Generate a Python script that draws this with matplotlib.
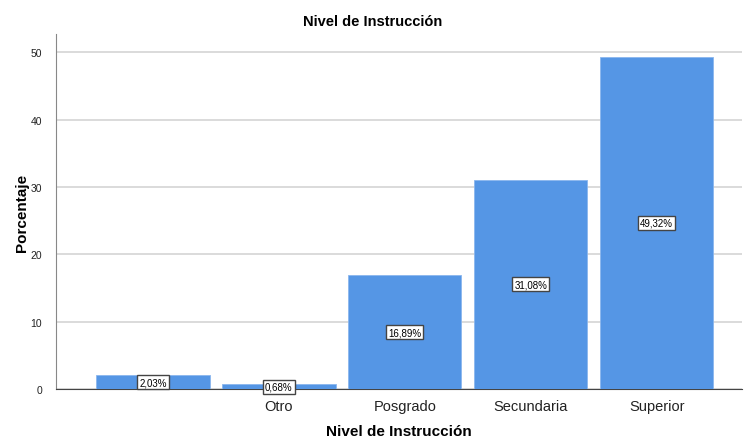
import matplotlib
matplotlib.use("Agg")
import matplotlib.pyplot as plt

categories = ["", "Otro", "Posgrado", "Secundaria", "Superior"]
values = [2.03, 0.68, 16.89, 31.08, 49.32]
labels = ["2,03%", "0,68%", "16,89%", "31,08%", "49,32%"]
yticks = [0, 10, 20, 30, 40, 50]

plt.rcParams['font.family'] = ['Liberation Sans', 'DejaVu Sans']

fig = plt.figure(figsize=(7.46, 4.39), dpi=100)
ax = fig.add_axes([0.075, 0.1116, 0.92, 0.8087])

x = list(range(len(categories)))
ax.bar(x, values, width=0.9, color="#5596e5", edgecolor="#8ab6ee", linewidth=0.6, zorder=3)

for xi, v, lab in zip(x, values, labels):
    ax.text(xi, v / 2, lab, ha="center", va="center", fontsize=7, color="black", zorder=5,
            bbox=dict(boxstyle="square,pad=0.2", facecolor="white", edgecolor="#444444", linewidth=1))

ax.set_xlim(-0.77, 4.68)
ax.set_ylim(0, 52.7)
ax.set_yticks(yticks)
ax.set_yticklabels([str(t) for t in yticks], fontsize=7.5, color="#222222")
ax.set_xticks(x)
ax.set_xticklabels(categories, fontsize=10.5, color="#222222")
ax.tick_params(axis="both", length=0)
ax.tick_params(axis="x", pad=7)
ax.tick_params(axis="y", pad=10)

ax.yaxis.grid(True, color="#d4d4d4", linewidth=1.2, zorder=0)
ax.set_axisbelow(True)

for s in ["top", "right"]:
    ax.spines[s].set_visible(False)
ax.spines["left"].set_color("#888888")
ax.spines["bottom"].set_color("#444444")

fig.text(0.5, 1 - 22 / 439, "Nivel de Instrucción", fontsize=10.5, fontweight="bold",
         ha="center", va="center")
ax.set_xlabel("Nivel de Instrucción", fontsize=11, fontweight="bold", labelpad=8)
ax.set_ylabel("Porcentaje", fontsize=11, fontweight="bold", labelpad=1)

fig.savefig("out.png", dpi=100)
